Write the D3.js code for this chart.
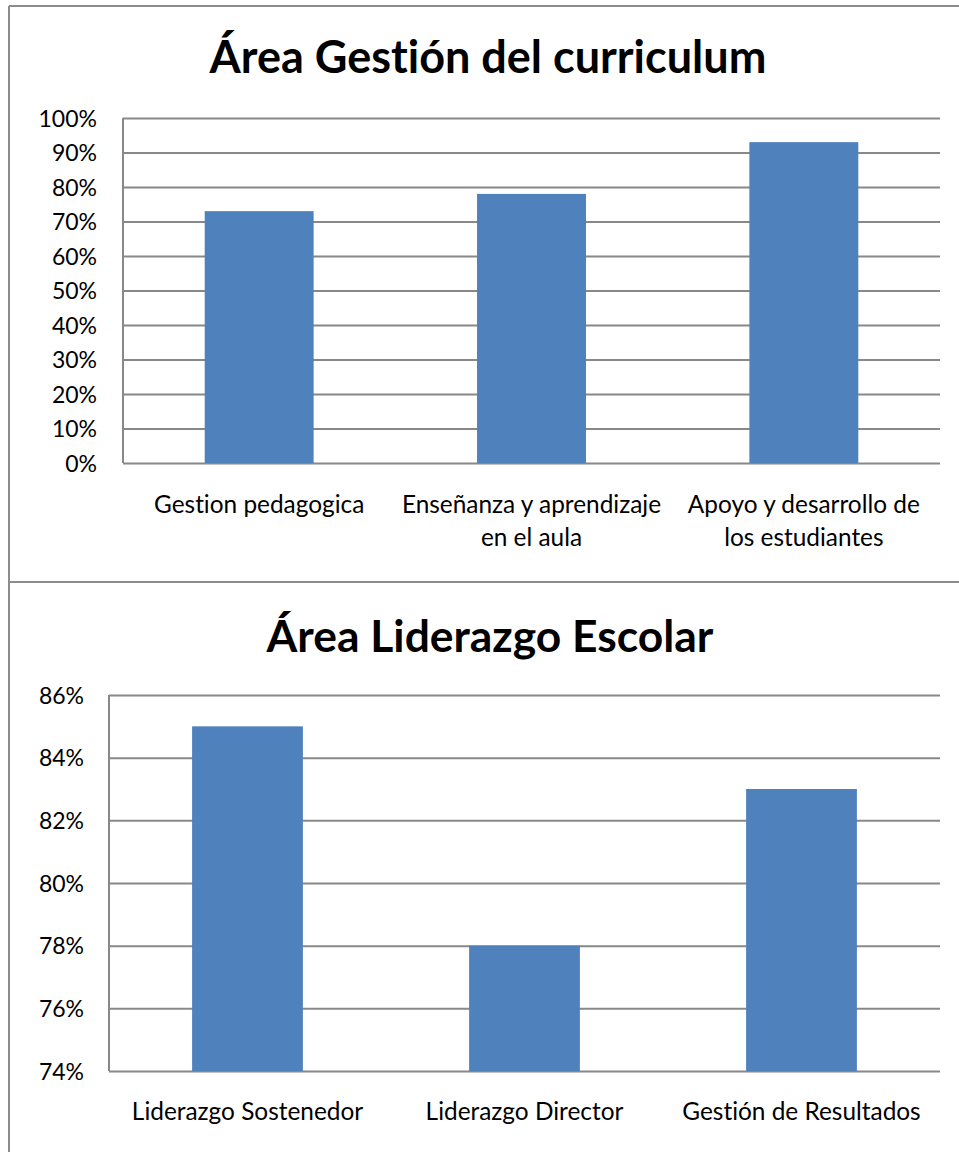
<!DOCTYPE html>
<html><head><meta charset="utf-8">
<script src="https://cdn.jsdelivr.net/npm/d3@7"></script>
<style>body{margin:0;background:#fff}svg{display:block}text{font-family:Lato,"Open Sans",sans-serif;fill:#000;font-variant-ligatures:none;font-feature-settings:"liga" 0,"clig" 0}</style>
</head><body>
<svg id="c" width="959" height="1152"></svg>
<script>
const title1 = "Área Gestión del curriculum";
const categories1 = [["Gestion pedagogica"], ["Enseñanza y aprendizaje", "en el aula"], ["Apoyo y desarrollo de", "los estudiantes"]];
const values1 = [0.73, 0.78, 0.93];
const ticks1 = [0,0.1,0.2,0.3,0.4,0.5,0.6,0.7,0.8,0.9,1.0];

const title2 = "Área Liderazgo Escolar";
const categories2 = [["Liderazgo Sostenedor"], ["Liderazgo Director"], ["Gestión de Resultados"]];
const values2 = [0.85, 0.78, 0.83];
const ticks2 = [0.74,0.76,0.78,0.80,0.82,0.84,0.86];

const svg = d3.select("#c");
const frame = "#8c8c8c";
svg.append("line").attr("x1",9).attr("x2",9).attr("y1",6).attr("y2",1152).attr("stroke",frame).attr("stroke-width",2);
svg.append("line").attr("x1",9).attr("x2",959).attr("y1",6).attr("y2",6).attr("stroke",frame).attr("stroke-width",2);
svg.append("line").attr("x1",9).attr("x2",959).attr("y1",582).attr("y2",582).attr("stroke",frame).attr("stroke-width",2);

function chart(o){
  const g = svg.append("g");
  const x = d3.scaleBand().domain(d3.range(o.values.length)).range([o.left,o.right]).paddingInner(0.6).paddingOuter(0.3);
  const y = d3.scaleLinear().domain(o.domain).range([o.bottom,o.top]);
  g.append("text").attr("x",o.titleX).attr("y",o.titleY).attr("text-anchor","middle")
    .attr("font-size",o.titleSize).attr("font-weight","bold").text(o.title);
  const yAxis = d3.axisLeft(y).tickValues(o.ticks).tickSize(-(o.right-o.left)).tickFormat(d3.format(".0%"));
  const ag = g.append("g").attr("transform",`translate(${o.left},0)`).call(yAxis);
  ag.select(".domain").remove();
  ag.selectAll(".tick line").attr("stroke","#888").attr("stroke-width",2);
  ag.selectAll(".tick text").attr("x",o.labelX-o.left).attr("font-size",23).attr("font-family","Lato").attr("fill","#000").attr("dy","0.35em");
  g.append("line").attr("x1",o.left).attr("x2",o.left).attr("y1",o.top).attr("y2",o.bottom).attr("stroke","#888").attr("stroke-width",2);
  g.selectAll("rect.bar").data(o.values).join("rect").attr("class","bar")
    .attr("x",(d,i)=>x(i)).attr("width",x.bandwidth())
    .attr("y",d=>y(d)).attr("height",d=>o.bottom-y(d))
    .attr("fill","#4f81bd");
  g.selectAll("text.cat").data(o.cats).join("text").attr("class","cat")
    .attr("text-anchor","middle").attr("font-size",24.4)
    .each(function(d,i){
      const t=d3.select(this);
      d.forEach((line,k)=>t.append("tspan").attr("x",x(i)+x.bandwidth()/2).attr("y",o.catY+k*33).text(line));
    });
}
chart({title:title1,titleX:488,titleY:73,titleSize:45,values:values1,cats:categories1,ticks:ticks1,domain:[0,1],
  left:123,right:940,top:118,bottom:463,labelX:97,catY:513});
chart({title:title2,titleX:490,titleY:652,titleSize:44.4,values:values2,cats:categories2,ticks:ticks2,domain:[0.74,0.86],
  left:109,right:940,top:695,bottom:1071,labelX:84,catY:1120});
</script>
</body></html>
